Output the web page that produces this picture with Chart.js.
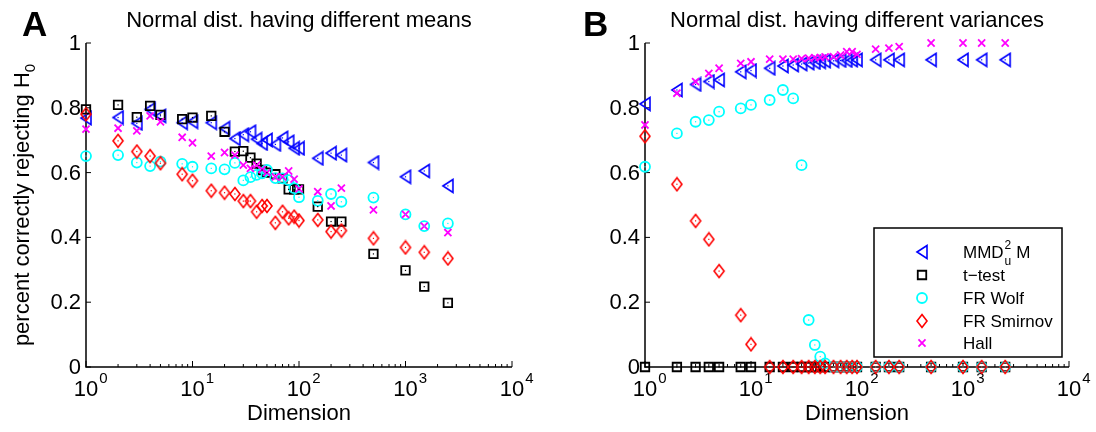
<!DOCTYPE html>
<html>
<head>
<meta charset="utf-8">
<script src="https://cdn.jsdelivr.net/npm/chart.js@4.4.0/dist/chart.umd.min.js"></script>
<style>
  body { margin: 0; background: #fff; }
  #wrap { position: relative; width: 1096px; height: 432px; }
  canvas { position: absolute; top: 0; }
</style>
</head>
<body>
<div id="wrap">
  <canvas id="chartA" width="548" height="432" style="left:0"></canvas>
  <canvas id="chartB" width="548" height="432" style="left:548px"></canvas>
</div>
<script>
const dims = [1, 2, 3, 4, 5, 8, 10, 15, 20, 25, 30, 35, 40, 45, 50, 60, 70, 80, 90, 100, 150, 200, 250, 500, 1000, 1500, 2500];

// A: normal dist. with different means
const mmdA = [0.768, 0.770, 0.752, 0.795, 0.775, 0.754, 0.757, 0.754, 0.737, 0.705, 0.717, 0.726, 0.703, 0.690, 0.701, 0.687, 0.707, 0.695, 0.675, 0.675, 0.644, 0.660, 0.654, 0.631, 0.587, 0.605, 0.559];
const ttestA = [0.795, 0.809, 0.771, 0.806, 0.778, 0.765, 0.770, 0.775, 0.726, 0.665, 0.666, 0.646, 0.628, 0.608, 0.600, 0.595, 0.582, 0.548, 0.548, 0.548, 0.495, 0.449, 0.449, 0.349, 0.298, 0.248, 0.198];
const wolfA = [0.651, 0.654, 0.631, 0.620, 0.634, 0.627, 0.618, 0.613, 0.610, 0.630, 0.576, 0.586, 0.593, 0.598, 0.608, 0.583, 0.582, 0.577, 0.552, 0.524, 0.513, 0.534, 0.510, 0.523, 0.471, 0.435, 0.443];
const smirnovA = [0.780, 0.698, 0.665, 0.651, 0.629, 0.595, 0.575, 0.544, 0.538, 0.534, 0.512, 0.512, 0.479, 0.497, 0.497, 0.445, 0.479, 0.459, 0.464, 0.452, 0.454, 0.418, 0.421, 0.397, 0.369, 0.354, 0.335];
const hallA = [0.734, 0.737, 0.729, 0.775, 0.757, 0.709, 0.692, 0.651, 0.662, 0.654, 0.623, 0.613, 0.623, 0.610, 0.600, 0.587, 0.587, 0.605, 0.580, 0.550, 0.541, 0.497, 0.552, 0.485, 0.471, 0.435, 0.415];

// B: normal dist. with different variances
const mmdB = [0.812, 0.855, 0.872, 0.881, 0.886, 0.911, 0.915, 0.922, 0.929, 0.932, 0.935, 0.938, 0.940, 0.942, 0.944, 0.945, 0.946, 0.946, 0.947, 0.948, 0.948, 0.948, 0.948, 0.948, 0.948, 0.948, 0.948];
const ttestB = [0, 0, 0, 0, 0, 0, 0, 0, 0, 0, 0, 0, 0, 0, 0, 0, 0, 0, 0, 0, 0, 0, 0, 0, 0, 0, 0];
const wolfB = [0.618, 0.721, 0.757, 0.762, 0.788, 0.798, 0.809, 0.824, 0.855, 0.829, 0.623, 0.145, 0.068, 0.032, 0.011, 0, 0, 0, 0, 0, 0, 0, 0, 0, 0, 0, 0];
const smirnovB = [0.712, 0.564, 0.451, 0.394, 0.296, 0.160, 0.070, 0, 0, 0, 0, 0, 0, 0, 0, 0, 0, 0, 0, 0, 0, 0, 0, 0, 0, 0, 0];
const hallB = [0.747, 0.845, 0.881, 0.906, 0.922, 0.937, 0.942, 0.950, 0.950, 0.950, 0.952, 0.953, 0.955, 0.955, 0.957, 0.958, 0.963, 0.973, 0.973, 0.965, 0.981, 0.984, 0.989, 1.0, 1.0, 1.0, 1.0];

const legendLabels = ['MMD', 't\u2212test', 'FR Wolf', 'FR Smirnov', 'Hall'];
const yTicks = [0, 0.2, 0.4, 0.6, 0.8, 1];
const yTickLabels = ['0', '0.2', '0.4', '0.6', '0.8', '1'];
const xDecades = [1, 10, 100, 1000, 10000];
const xExps = ['0', '1', '2', '3', '4'];

const FONT = '"Liberation Sans", Arial, Helvetica, sans-serif';

// matlab-like markers: '<' triangle and tall diamond
function markerCanvas(color, pts) {
  const c = document.createElement('canvas');
  c.width = 14; c.height = 16;
  const g = c.getContext('2d');
  g.strokeStyle = color;
  g.lineWidth = 1.6;
  g.beginPath();
  g.moveTo(pts[0][0], pts[0][1]);
  for (let i = 1; i < pts.length; i++) g.lineTo(pts[i][0], pts[i][1]);
  g.closePath();
  g.stroke();
  return c;
}
const triImg = markerCanvas('#0000ff', [[2, 8], [12, 1.5], [12, 14.5]]);
const diaImg = markerCanvas('#ff0000', [[7, 1.5], [12, 8], [7, 14.5], [2, 8]]);

const styles = [
  { color: '#0000ff', pointStyle: triImg, radius: 7, width: 1.6, dot: true },
  { color: '#000000', pointStyle: 'rect', radius: 6, width: 1.8, dot: true },
  { color: '#00ffff', pointStyle: 'circle', radius: 5, width: 1.8, dot: true },
  { color: '#ff0000', pointStyle: diaImg, radius: 7, width: 1.6, dot: true },
  { color: '#ff00ff', pointStyle: 'crossRot', radius: 5, width: 1.8, dot: false }
];

function line(ctx, x1, y1, x2, y2) {
  ctx.beginPath(); ctx.moveTo(x1, y1); ctx.lineTo(x2, y2); ctx.stroke();
}

function drawAxes(chart, o) {
  const ctx = chart.ctx, a = chart.chartArea;
  const xs = chart.scales.x, ys = chart.scales.y;
  ctx.save();
  ctx.strokeStyle = '#000';
  ctx.fillStyle = '#000';
  ctx.lineWidth = 1.5;
  ctx.beginPath();
  ctx.moveTo(a.left, a.top); ctx.lineTo(a.left, a.bottom); ctx.lineTo(a.right, a.bottom);
  ctx.stroke();

  ctx.lineWidth = 1;
  ctx.font = '22px ' + FONT;
  ctx.textAlign = 'right';
  ctx.textBaseline = 'middle';
  yTicks.forEach((v, i) => {
    const py = ys.getPixelForValue(v);
    line(ctx, a.left, py, a.left + 5, py);
    ctx.fillText(yTickLabels[i], a.left - 5, py + 1);
  });

  xDecades.forEach((d, i) => {
    const px = xs.getPixelForValue(d);
    line(ctx, px, a.bottom, px, a.bottom - 6);
    if (i < xDecades.length - 1) {
      for (let m = 2; m < 10; m++) {
        const pm = xs.getPixelForValue(d * m);
        line(ctx, pm, a.bottom, pm, a.bottom - 3);
      }
    }
    ctx.font = '22px ' + FONT;
    ctx.textAlign = 'center';
    ctx.textBaseline = 'alphabetic';
    ctx.fillText('10', px, 396);
    const w = ctx.measureText('10').width;
    ctx.font = '15px ' + FONT;
    ctx.textAlign = 'left';
    ctx.fillText(xExps[i], px + w / 2 + 1, 383);
  });

  ctx.font = '22px ' + FONT;
  ctx.textAlign = 'center';
  ctx.fillText('Dimension', (a.left + a.right) / 2, 420);
  ctx.fillText(o.title, (a.left + a.right) / 2, 27);

  ctx.font = 'bold 35px ' + FONT;
  ctx.textAlign = 'left';
  ctx.fillText(o.letter, o.letterX, 36);

  if (o.yTitle) {
    ctx.translate(29, (a.top + a.bottom) / 2);
    ctx.rotate(-Math.PI / 2);
    const main = 'percent correctly rejecting H';
    ctx.font = '22px ' + FONT;
    const w1 = ctx.measureText(main).width;
    ctx.font = '15px ' + FONT;
    const w2 = ctx.measureText('0').width;
    const start = -(w1 + w2) / 2;
    ctx.font = '22px ' + FONT;
    ctx.fillText(main, start, 0);
    ctx.font = '15px ' + FONT;
    ctx.fillText('0', start + w1, 6);
  }
  ctx.restore();
}

function drawDots(chart) {
  const ctx = chart.ctx;
  ctx.save();
  chart.data.datasets.forEach((ds, k) => {
    if (!styles[k].dot) return;
    ctx.fillStyle = styles[k].color;
    chart.getDatasetMeta(k).data.forEach(p => {
      ctx.fillRect(p.x - 0.6, p.y - 0.6, 1.2, 1.2);
    });
  });
  ctx.restore();
}

function drawLegend(chart, L) {
  const ctx = chart.ctx;
  ctx.save();
  ctx.fillStyle = '#fff';
  ctx.fillRect(L.x, L.y, L.w, L.h);
  ctx.strokeStyle = '#000';
  ctx.lineWidth = 1.5;
  ctx.strokeRect(L.x, L.y, L.w, L.h);
  legendLabels.forEach((lab, k) => {
    const y = L.rows[k];
    ctx.strokeStyle = styles[k].color;
    ctx.fillStyle = 'rgba(0,0,0,0)';
    ctx.lineWidth = styles[k].width;
    Chart.helpers.drawPoint(ctx, { pointStyle: styles[k].pointStyle, radius: styles[k].radius, rotation: 0, borderWidth: styles[k].width }, L.mx, y);
    ctx.fillStyle = '#000';
    ctx.font = '17px ' + FONT;
    ctx.textAlign = 'left';
    ctx.textBaseline = 'middle';
    ctx.fillText(lab, L.tx, y + 1);
    if (k === 0) {
      const w = ctx.measureText(lab).width;
      ctx.font = '12px ' + FONT;
      ctx.fillText('2', L.tx + w + 1, y - 6);
      ctx.fillText('u', L.tx + w + 1, y + 10);
      ctx.font = '17px ' + FONT;
      ctx.fillText(' M', L.tx + w + 8, y + 1);
    }
  });
  ctx.restore();
}

const matlabPlugin = {
  id: 'matlab',
  beforeDatasetsDraw(chart, args, o) { drawAxes(chart, o); },
  afterDatasetsDraw(chart, args, o) {
    drawDots(chart);
    if (o.legend) drawLegend(chart, o.legend);
  }
};

function makeChart(id, series, opts) {
  return new Chart(document.getElementById(id), {
    type: 'scatter',
    data: {
      datasets: series.map((vals, k) => ({
        label: legendLabels[k],
        data: dims.map((d, i) => ({ x: d, y: vals[i] })),
        pointStyle: styles[k].pointStyle,
        pointRadius: styles[k].radius,
        pointBorderWidth: styles[k].width,
        borderColor: styles[k].color,
        backgroundColor: 'rgba(0,0,0,0)',
        order: 4 - k,
        clip: false
      }))
    },
    options: {
      responsive: false,
      animation: false,
      events: [],
      layout: { padding: opts.padding },
      scales: {
        x: { type: 'logarithmic', min: 1, max: 10000, display: false },
        y: { type: 'linear', min: 0, max: 1, display: false }
      },
      plugins: { legend: { display: false }, tooltip: { enabled: false }, matlab: opts }
    },
    plugins: [matlabPlugin]
  });
}

makeChart('chartA', [mmdA, ttestA, wolfA, smirnovA, hallA], {
  padding: { left: 86, right: 36, top: 43, bottom: 65 },
  title: 'Normal dist. having different means',
  letter: 'A', letterX: 22, yTitle: true, legend: null
});

makeChart('chartB', [mmdB, ttestB, wolfB, smirnovB, hallB], {
  padding: { left: 97, right: 27, top: 43, bottom: 65 },
  title: 'Normal dist. having different variances',
  letter: 'B', letterX: 35, yTitle: false,
  legend: { x: 326, y: 228, w: 188, h: 129, mx: 374, tx: 415, rows: [252, 275, 298, 321, 343] }
});
</script>
</body>
</html>
